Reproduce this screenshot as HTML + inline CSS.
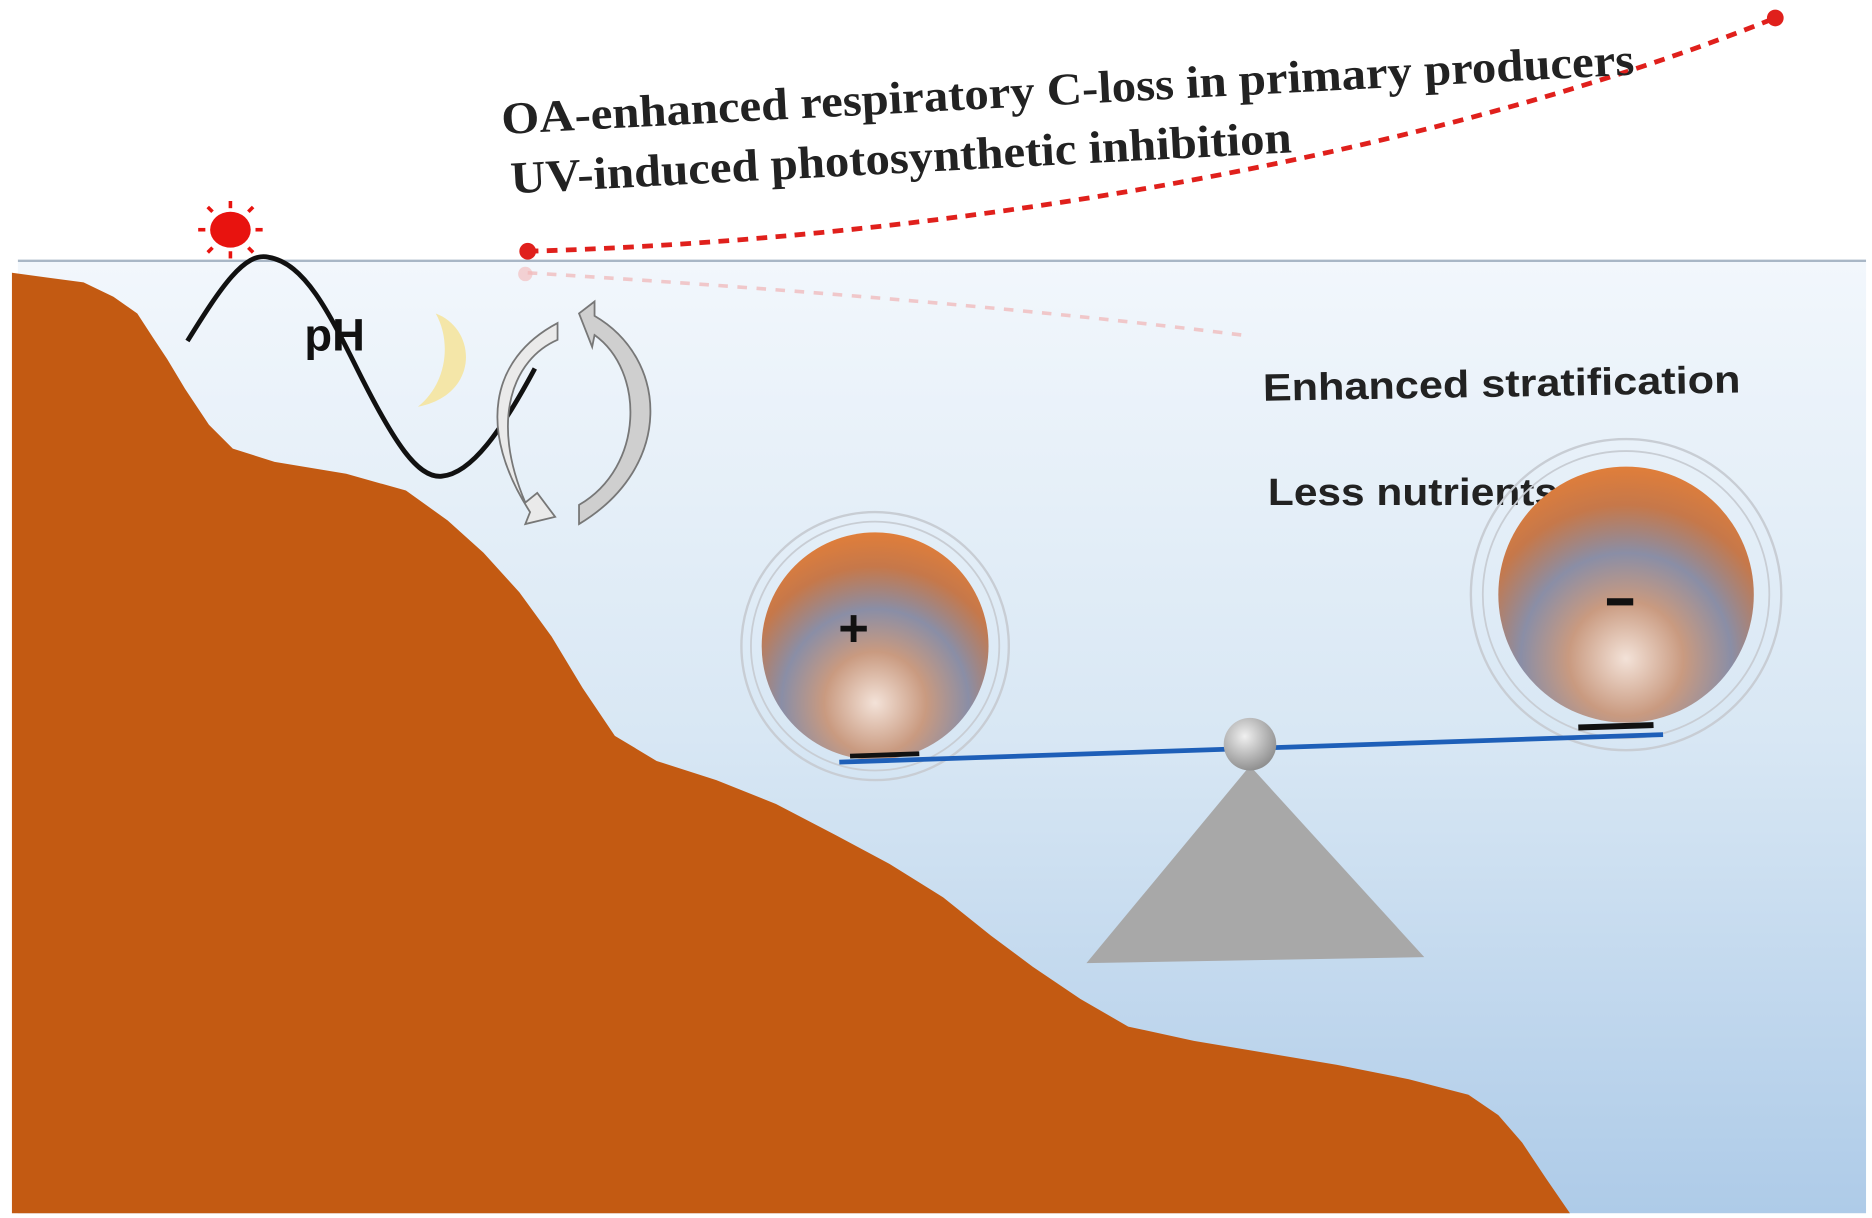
<!DOCTYPE html>
<html><head><meta charset="utf-8"><style>html,body{margin:0;padding:0;background:#fff}svg{display:block}</style></head>
<body>
<svg width="1872" height="1218" viewBox="0 0 1568 1018" preserveAspectRatio="none" xmlns="http://www.w3.org/2000/svg">
<defs>
<linearGradient id="water" x1="0" y1="0" x2="0" y2="1">
<stop offset="0" stop-color="#f2f7fc"/><stop offset="0.5" stop-color="#d8e7f4"/><stop offset="1" stop-color="#aecbe8"/>
</linearGradient>
<radialGradient id="ball" cx="0.5" cy="0.75" r="0.75">
<stop offset="0" stop-color="#f3e2d8"/><stop offset="0.3" stop-color="#c99a80"/><stop offset="0.55" stop-color="#8a8ea6"/><stop offset="0.8" stop-color="#c6784a"/><stop offset="1" stop-color="#e07e3a"/>
</radialGradient>
<radialGradient id="gb" cx="0.4" cy="0.35" r="0.7"><stop offset="0" stop-color="#f0f0f0"/><stop offset="1" stop-color="#8a8a8a"/></radialGradient>
</defs>
<rect x="0" y="0" width="1568" height="1018" fill="#fff"/>
<rect x="15" y="218" width="1548" height="796" fill="url(#water)"/>
<line x1="15" y1="218" x2="1563" y2="218" stroke="#a9b7c6" stroke-width="2"/>
<path d="M10,228 L40,232 L70,236 L95,248 L115,262 L128,282 L140,300 L155,325 L175,355 L195,375 L230,386 L290,396 L340,410 L375,435 L405,462 L435,495 L462,532 L488,575 L515,615 L550,636 L600,652 L650,672 L700,698 L745,722 L790,750 L830,782 L865,808 L905,835 L945,858 L1000,870 L1060,880 L1120,890 L1180,902 L1230,915 L1255,932 L1275,955 L1295,985 L1315,1014 L10,1014 Z" fill="#c35a12"/>
<path d="M442,210 C800,200 1200,130 1487,15" fill="none" stroke="#e0201c" stroke-width="4" stroke-dasharray="9,7"/>
<circle cx="442" cy="210" r="7" fill="#e0201c"/><circle cx="1487" cy="15" r="7" fill="#e0201c"/>
<path d="M442,228 Q800,250 1040,280" fill="none" stroke="#f0a8a8" stroke-width="3" stroke-dasharray="8,8" opacity="0.6"/>
<circle cx="440" cy="229" r="6" fill="#f4b8b8" opacity="0.6"/>
<g transform="rotate(-3 420 100)" font-family="Liberation Serif,serif" font-weight="bold" font-size="38" fill="#222">
<text x="420" y="112" textLength="950" lengthAdjust="spacingAndGlyphs">OA-enhanced respiratory C-loss in primary producers</text>
<text x="425" y="162" textLength="655" lengthAdjust="spacingAndGlyphs">UV-induced photosynthetic inhibition</text>
</g>
<g fill="#e8130f"><ellipse cx="193" cy="192" rx="17" ry="15"/>
<g stroke="#e8130f" stroke-width="3"><line x1="193" y1="168" x2="193" y2="174"/><line x1="193" y1="210" x2="193" y2="216"/><line x1="166" y1="192" x2="172" y2="192"/><line x1="214" y1="192" x2="220" y2="192"/><line x1="174" y1="173" x2="178" y2="177"/><line x1="208" y1="207" x2="212" y2="211"/><line x1="212" y1="173" x2="208" y2="177"/><line x1="174" y1="211" x2="178" y2="207"/></g></g>
<path d="M157,285 C185,240 205,210 225,215 C255,220 275,260 300,310 C330,370 350,400 370,398 C395,396 420,360 448,308" fill="none" stroke="#111" stroke-width="4"/>
<text x="255" y="293" font-family="Liberation Sans,sans-serif" font-weight="bold" font-size="38" fill="#111">pH</text>
<path d="M365,262 C400,275 402,330 350,340 C375,320 378,285 365,262 Z" fill="#f4e6a8"/>
<path d="M467,270 L467,284 C430,300 410,350 440,420 L450,412 L465,432 L440,438 L444,428 C400,360 410,300 467,270 Z" fill="#eaeaea" stroke="#777" stroke-width="1.5"/>
<path d="M485,262 L498,252 L498,264 C560,300 565,390 485,438 L485,422 C540,390 540,310 498,280 L496,290 Z" fill="#cfcfcf" stroke="#777" stroke-width="1.5"/>
<text x="1058" y="335" font-family="Liberation Sans,sans-serif" font-weight="bold" font-size="32" fill="#222" transform="rotate(-1 1058 335)" textLength="400" lengthAdjust="spacingAndGlyphs">Enhanced stratification</text>
<text x="1062" y="422" font-family="Liberation Sans,sans-serif" font-weight="bold" font-size="32" fill="#222" textLength="243" lengthAdjust="spacingAndGlyphs">Less nutrients</text>
<circle cx="733" cy="540" r="112" fill="none" stroke="#c8cdd4" stroke-width="2"/>
<circle cx="733" cy="540" r="104" fill="none" stroke="#c8cdd4" stroke-width="1.5"/>
<circle cx="733" cy="540" r="95" fill="url(#ball)"/>
<text x="715" y="540" font-family="Liberation Sans,sans-serif" font-weight="bold" font-size="44" text-anchor="middle" fill="#111">+</text>
<circle cx="1362" cy="497" r="130" fill="none" stroke="#c8cdd4" stroke-width="2"/>
<circle cx="1362" cy="497" r="120" fill="none" stroke="#c8cdd4" stroke-width="1.5"/>
<circle cx="1362" cy="497" r="107" fill="url(#ball)"/>
<rect x="1346" y="500" width="22" height="6" fill="#111"/>
<polygon points="1047,640 910,805 1193,800" fill="#a8a8a8"/>
<line x1="703" y1="637" x2="1393" y2="614" stroke="#1e5fb8" stroke-width="4"/>
<line x1="712" y1="632" x2="770" y2="630" stroke="#111" stroke-width="4"/>
<line x1="1322" y1="608" x2="1385" y2="606" stroke="#111" stroke-width="5"/>
<circle cx="1047" cy="622" r="22" fill="url(#gb)"/>
</svg>
</body></html>
